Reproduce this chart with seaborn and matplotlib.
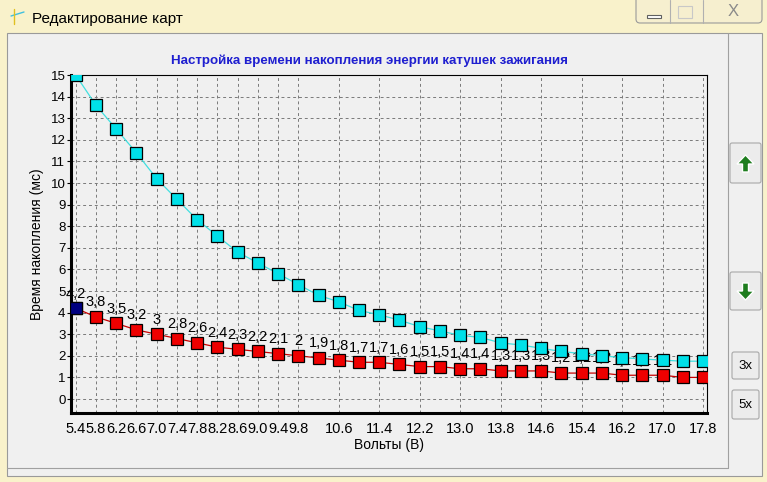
import pandas as pd
import seaborn as sns
import matplotlib.pyplot as plt
from matplotlib import font_manager
from matplotlib.patches import Rectangle, FancyBboxPatch, Polygon

# данные карты
volts = [5.4, 5.8, 6.2, 6.6, 7.0, 7.4, 7.8, 8.2, 8.6, 9.0, 9.4, 9.8,
         10.2, 10.6, 11.0, 11.4, 11.8, 12.2, 12.6, 13.0, 13.4, 13.8,
         14.2, 14.6, 15.0, 15.4, 15.8, 16.2, 16.6, 17.0, 17.4, 17.8]
dwell_base = [15.0, 13.6, 12.5, 11.4, 10.2, 9.25, 8.3, 7.55, 6.8, 6.3, 5.8, 5.3,
              4.8, 4.5, 4.1, 3.9, 3.65, 3.35, 3.15, 2.95, 2.85, 2.6,
              2.5, 2.35, 2.2, 2.1, 2.0, 1.92, 1.85, 1.8, 1.75, 1.75]
dwell_set = [4.2, 3.8, 3.5, 3.2, 3.0, 2.8, 2.6, 2.4, 2.3, 2.2, 2.1, 2.0,
             1.9, 1.8, 1.7, 1.7, 1.6, 1.5, 1.5, 1.4, 1.4, 1.3,
             1.3, 1.3, 1.2, 1.2, 1.2, 1.1, 1.1, 1.1, 1.0, 1.0]
x_ticks = [5.4, 5.8, 6.2, 6.6, 7.0, 7.4, 7.8, 8.2, 8.6, 9.0, 9.4, 9.8,
           10.6, 11.4, 12.2, 13.0, 13.8, 14.6, 15.4, 16.2, 17.0, 17.8]
y_ticks = list(range(0, 16))

title = "Настройка времени накопления энергии катушек зажигания"
window_title = "Редактирование карт"

sns.set_style("white")
names = {f.name for f in font_manager.fontManager.ttflist}
narrow = "Liberation Sans Narrow" if "Liberation Sans Narrow" in names else "Liberation Sans"
plt.rcParams["font.family"] = ["Liberation Sans", "DejaVu Sans"]
for key in ["text.color", "axes.labelcolor", "xtick.color", "ytick.color"]:
    plt.rcParams[key] = "black"

df = pd.DataFrame({"volts": volts, "base": dwell_base, "set": dwell_set})

fig = plt.figure(figsize=(7.67, 4.82), dpi=100, facecolor="#f9f2cb")

# окно (фон в пикселях)
bg = fig.add_axes([0, 0, 1, 1], zorder=-1)
bg.set_xlim(0, 767)
bg.set_ylim(482, 0)
bg.axis("off")
bg.add_patch(Rectangle((7, 33), 755, 443, facecolor="#f0f0f0", edgecolor="#9a9a9a", lw=0.8))
bg.plot([728, 728], [33, 468], color="#a0a0a0", lw=0.8)
bg.plot([7, 728], [468, 468], color="#a0a0a0", lw=0.8)
bg.text(32, 19, window_title, fontsize=11, va="center", ha="left")
bg.plot([11, 24], [16, 12], color="#40c0e0", lw=1)
bg.plot([14, 14], [9, 24], color="#e0c020", lw=1)
bg.add_patch(FancyBboxPatch((636, -4), 126, 27, boxstyle="round,pad=0,rounding_size=4",
                            facecolor="#f6efcf", edgecolor="#9a9a9a", lw=0.8))
bg.plot([670, 670], [0, 23], color="#b0b0b0", lw=0.8)
bg.plot([703, 703], [0, 23], color="#b0b0b0", lw=0.8)
bg.add_patch(Rectangle((647, 15), 14, 3, facecolor="white", edgecolor="#606060", lw=0.8))
bg.add_patch(Rectangle((678, 6), 14, 12, facecolor="none", edgecolor="#c8c8c8", lw=0.8))
bg.text(733, 12, "X", fontsize=12, ha="center", va="center", color="#8a8a8a")

for (bx, by, bw, bh) in [(730, 143, 31, 40), (730, 272, 31, 38), (732, 352, 27, 27), (732, 390, 27, 29)]:
    bg.add_patch(FancyBboxPatch((bx, by), bw, bh, boxstyle="round,pad=0,rounding_size=2",
                                facecolor="#ececec", edgecolor="#a8a8a8", lw=0.8))
bg.add_patch(Polygon([(745.5, 155), (737, 164), (742.5, 164), (742.5, 172), (748.5, 172),
                      (748.5, 164), (754, 164)], closed=True, facecolor="#1e7d1e"))
bg.add_patch(Polygon([(745.5, 300), (737, 291), (742.5, 291), (742.5, 283), (748.5, 283),
                      (748.5, 291), (754, 291)], closed=True, facecolor="#1e7d1e"))
bg.text(745.5, 366, "3x", fontsize=9.5, ha="center", va="center", family=narrow)
bg.text(745.5, 405, "5x", fontsize=9.5, ha="center", va="center", family=narrow)

fig.text(369 / 767, 1 - 61 / 482, title, fontsize=9.6, fontweight="bold",
         color="#1f1fd0", ha="center", va="center")

# график
ax = fig.add_axes([71 / 767, 1 - 413.3 / 482, 636 / 767, 338.3 / 482])
ax.set_facecolor("#f0f0f0")

sns.lineplot(data=df, x="volts", y="base", ax=ax, color="#40e0e0", lw=0.9,
             marker="s", markersize=8, markerfacecolor="#00e0e8",
             markeredgecolor="black", markeredgewidth=0.9, zorder=4)
sns.lineplot(data=df, x="volts", y="set", ax=ax, color="#c80000", lw=0.9,
             marker="s", markersize=8, markerfacecolor="#ee0000",
             markeredgecolor="black", markeredgewidth=0.9, zorder=3)
sns.scatterplot(x=df["volts"][:1], y=df["set"][:1], ax=ax, marker="s", s=64,
                color="#000080", edgecolor="black", linewidth=0.9, zorder=5)

for v, t in zip(volts, dwell_set):
    ax.annotate(f"{t:g}".replace(".", ","), (v, t), xytext=(0, 10.5),
                textcoords="offset points", ha="center", va="center",
                fontsize=10.5, family=narrow, color="black", zorder=2)

ax.set_xlim(5.307, 17.879)
ax.set_ylim(-0.662, 15)
ax.set_xticks(x_ticks)
ax.set_xticklabels([f"{v:.1f}" for v in x_ticks])
ax.set_yticks(y_ticks)
ax.tick_params(axis="x", length=0, pad=6, labelsize=10.5)
ax.tick_params(axis="y", length=3, width=0.8, pad=1, labelsize=9.5, direction="out", left=True)
for lab in ax.get_yticklabels():
    lab.set_family(narrow)
ax.grid(True, color="#7a7a7a", linestyle=(0, (3, 3)), linewidth=0.7)
ax.set_axisbelow(True)

for side in ["left", "bottom"]:
    ax.spines[side].set_linewidth(2.2)
    ax.spines[side].set_color("black")
for side in ["top", "right"]:
    ax.spines[side].set_linewidth(0.8)
    ax.spines[side].set_color("black")
    ax.spines[side].set_visible(True)

ax.set_xlabel("Вольты (В)", fontsize=10)
ax.set_ylabel("Время накопления (мс)", fontsize=10)
ax.xaxis.set_label_coords(0.5, -0.072)
ax.yaxis.set_label_coords(-0.043, 0.5)

fig.savefig("out.png", dpi=100, facecolor=fig.get_facecolor())
